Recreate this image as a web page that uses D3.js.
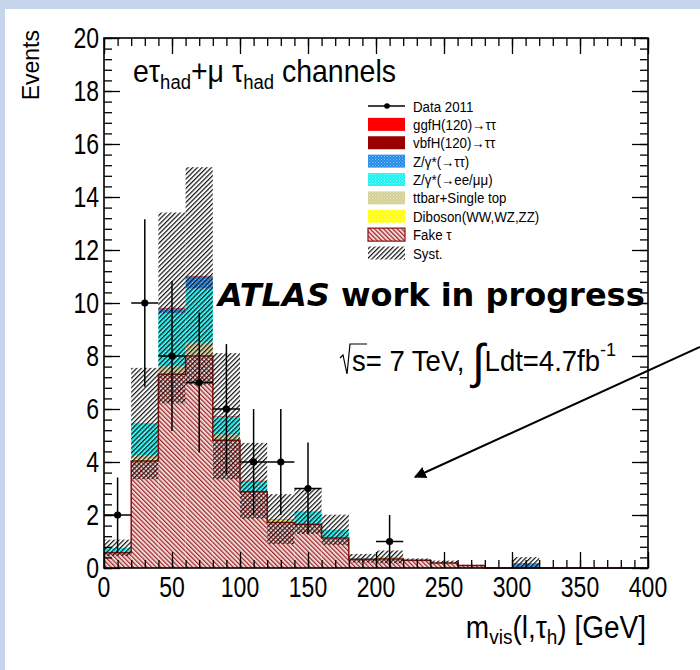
<!DOCTYPE html>
<html><head><meta charset="utf-8">
<script src="https://cdn.jsdelivr.net/npm/d3@7"></script>
<style>body{margin:0;background:#fff} text{font-family:"Liberation Sans",Arial,Helvetica,sans-serif}</style>
</head><body><svg id="c" width="700" height="670"></svg>
<script>
// 20 GeV bins of the visible mass
const binEdges = [0,20,40,60,80,100,120,140,160,180,200,220,240,260,280,300,320,340,360,380,400];

// expected events per bin, stacked bottom to top
const fakeTau = [0.58,4.04,7.31,8.00,4.82,2.88,1.72,1.65,1.13,0.33,0.34,0.29,0.19,0.09,0,0,0,0,0,0];
const diboson = [0.00,0.08,0.02,0.02,0.02,0.01,0.08,0.01,0.01,0.01,0.03,0.01,0.02,0.01,0,0,0,0,0,0];
const ttbarTop = [0.02,0.13,0.28,0.48,0.20,0.02,0.04,0.03,0.02,0.01,0.04,0.01,0.02,0,0,0,0,0,0,0];
const zll = [0.16,1.19,2.01,2.04,0.67,0.37,0.00,0.44,0.28,0.02,0.01,0,0,0,0,0,0,0,0,0];
const ztautau = [0.00,0.00,0.17,0.46,0.00,0.00,0.00,0.00,0.00,0,0,0,0,0,0,0.18,0,0,0,0];
const vbfH = [0,0.002,0.004,0.004,0.003,0.002,0.001,0.001,0,0,0,0,0,0,0,0,0,0,0,0];
const ggfH = [0,0.01,0.02,0.02,0.015,0.01,0.005,0.003,0.002,0,0,0,0,0,0,0,0,0,0,0];

// systematic uncertainty (half width) on the total expectation
const systErr = [0.31,2.10,3.60,4.10,2.38,1.43,0.94,0.85,0.57,0.16,0.24,0.05,0.05,0.02,0,0.23,0,0,0,0];

// observed 2011 data
const dataCounts = [2,10,8,7,6,4,4,3,0,0,1,0,0,0,0,0,0,0,0,0];

const xTicks = [0,50,100,150,200,250,300,350,400];
const yTicks = [0,2,4,6,8,10,12,14,16,18,20];

const layerKeys = ["fake","diboson","ttbar","zll","ztt","vbf","ggf"];
const layerFill = {fake:"url(#hFake)",diboson:"url(#dYel)",ttbar:"url(#dTan)",zll:"url(#dCyan)",ztt:"url(#dBlue)",vbf:"#990000",ggf:"#ff0000"};

const rows = fakeTau.map((f,i)=>({i, fake:f, diboson:diboson[i], ttbar:ttbarTop[i], zll:zll[i], ztt:ztautau[i], vbf:vbfH[i], ggf:ggfH[i]}));
const stacked = d3.stack().keys(layerKeys)(rows);
const totals = rows.map(r=>layerKeys.reduce((s,k)=>s+r[k],0));

const svg = d3.select("#c");
svg.append("rect").attr("width",700).attr("height",670).attr("fill","#c6d4ec");
svg.append("rect").attr("x",5).attr("y",9).attr("width",695).attr("height",661).attr("fill","#fff");

const defs = svg.append("defs");
function hatch(id, angle, color, gap, width, bg){
  const p = defs.append("pattern").attr("id",id).attr("patternUnits","userSpaceOnUse")
    .attr("width",gap).attr("height",gap).attr("patternTransform",`rotate(${angle})`);
  if (bg) p.append("rect").attr("width",gap).attr("height",gap).attr("fill",bg);
  p.append("line").attr("x1",0.6).attr("y1",0).attr("x2",0.6).attr("y2",gap).attr("stroke",color).attr("stroke-width",width);
}
hatch("hFake",-45,"#9e2020",3.2,1.15,"#f0d9d9");
hatch("hSyst",45,"#151515",3.3,1.25,null);
function dots(id, base, dot){
  const p = defs.append("pattern").attr("id",id).attr("patternUnits","userSpaceOnUse").attr("width",3).attr("height",3);
  p.append("rect").attr("width",3).attr("height",3).attr("fill",base);
  p.append("rect").attr("width",1).attr("height",1).attr("fill",dot);
  p.append("rect").attr("x",1.5).attr("y",1.5).attr("width",1).attr("height",1).attr("fill",dot);
}
dots("dBlue","#1e88e5","#8fc6ff");
dots("dCyan","#14f2f2","#9ffcfc");
dots("dTan","#d4cf94","#ebe8c8");
dots("dYel","#ffff00","#ffffa0");

const frame = {left:104, right:648, top:38, bottom:568};
const x = d3.scaleLinear().domain([0,400]).range([frame.left,frame.right]);
const y = d3.scaleLinear().domain([0,20]).range([frame.bottom,frame.top]);

// stacked backgrounds
const gStack = svg.append("g");
stacked.forEach(layer=>{
  gStack.selectAll(null).data(layer.filter(d=>d[1]-d[0]>0)).enter().append("rect")
    .attr("x",d=>x(binEdges[d.data.i]))
    .attr("width",d=>x(binEdges[d.data.i+1])-x(binEdges[d.data.i]))
    .attr("y",d=>y(d[1]))
    .attr("height",d=>y(d[0])-y(d[1]))
    .attr("fill",layerFill[layer.key]);
});

// outline of the fake-tau histogram
const stepPts = fakeTau.map((v,i)=>[binEdges[i],v]).concat([[400,fakeTau[fakeTau.length-1]]]);
svg.append("path").attr("d",d3.line().x(d=>x(d[0])).y(d=>y(d[1])).curve(d3.curveStepAfter)(stepPts))
  .attr("fill","none").attr("stroke","#8b1010").attr("stroke-width",1.5);

// systematic band
svg.append("g").selectAll("rect").data(totals.map((t,i)=>({i,lo:Math.max(0,t-systErr[i]),hi:t+systErr[i]})).filter(d=>d.hi-d.lo>0))
  .enter().append("rect")
  .attr("x",d=>x(binEdges[d.i])).attr("width",d=>x(binEdges[d.i+1])-x(binEdges[d.i]))
  .attr("y",d=>y(d.hi)).attr("height",d=>y(d.lo)-y(d.hi)).attr("fill","url(#hSyst)");

// data points with sqrt(N) errors
const pts = dataCounts.map((n,i)=>({i,n})).filter(d=>d.n>0);
const gData = svg.append("g").attr("stroke","#000").attr("stroke-width",1.5);
pts.forEach(d=>{
  const cx = x((binEdges[d.i]+binEdges[d.i+1])/2), e = Math.sqrt(d.n);
  gData.append("line").attr("x1",cx).attr("x2",cx).attr("y1",y(d.n+e)).attr("y2",y(d.n-e));
  gData.append("line").attr("x1",x(binEdges[d.i])).attr("x2",x(binEdges[d.i+1])).attr("y1",y(d.n)).attr("y2",y(d.n));
  gData.append("circle").attr("cx",cx).attr("cy",y(d.n)).attr("r",3.6).attr("fill","#000").attr("stroke","none");
});

// axes with inward ticks on all four sides
const yMinor = d3.range(0,20.01,0.4), xMinor = d3.range(0,400.1,10);
function ax(gen, tx, ty){ const g = svg.append("g").attr("transform",`translate(${tx},${ty})`).call(gen); g.select(".domain").remove(); g.selectAll("text").remove(); g.selectAll("line").attr("stroke","#000").attr("stroke-width",1.3); }
ax(d3.axisLeft(y).tickValues(yMinor).tickSize(-8), frame.left, 0);
ax(d3.axisLeft(y).tickValues(yTicks).tickSize(-16), frame.left, 0);
ax(d3.axisRight(y).tickValues(yMinor).tickSize(-8), frame.right, 0);
ax(d3.axisRight(y).tickValues(yTicks).tickSize(-16), frame.right, 0);
ax(d3.axisBottom(x).tickValues(xMinor).tickSize(-8), 0, frame.bottom);
ax(d3.axisBottom(x).tickValues(xTicks).tickSize(-16), 0, frame.bottom);
ax(d3.axisTop(x).tickValues(xMinor).tickSize(-8), 0, frame.top);
ax(d3.axisTop(x).tickValues(xTicks).tickSize(-16), 0, frame.top);
svg.append("rect").attr("x",frame.left).attr("y",frame.top).attr("width",frame.right-frame.left).attr("height",frame.bottom-frame.top)
  .attr("fill","none").attr("stroke","#000").attr("stroke-width",1.6);

// text helper with vertical stretch
function rt(px, py, size, anchor, k){
  return svg.append("g").attr("transform",`translate(${px},${py}) scale(1,${k||1})`)
    .append("text").attr("font-size",size).attr("text-anchor",anchor||"start");
}
yTicks.forEach(v=>rt(99, y(v)+10, 23, "end", 1.25).text(v));
xTicks.forEach(v=>rt(x(v), 597, 23, "middle", 1.25).text(v));

svg.append("text").attr("transform","translate(39,30) rotate(-90)").attr("text-anchor","end").attr("font-size",23).text("Events");

const xt = rt(646, 638, 28, "end", 1.1);
xt.append("tspan").text("m");
xt.append("tspan").attr("font-size",19).attr("dy",5).text("vis");
xt.append("tspan").attr("dy",-5).text("(l,τ");
xt.append("tspan").attr("font-size",19).attr("dy",5).text("h");
xt.append("tspan").attr("dy",-5).text(") [GeV]");

const ch = rt(133, 82, 28.5, "start", 1.1);
ch.append("tspan").text("eτ");
ch.append("tspan").attr("font-size",18.5).attr("dy",6).text("had");
ch.append("tspan").attr("dy",-6).text("+μ τ");
ch.append("tspan").attr("font-size",18.5).attr("dy",6).text("had");
ch.append("tspan").attr("dy",-6).text(" channels");

// legend
const legendRows = [
  {label:"Data 2011", kind:"data"},
  {label:"ggfH(120)→ττ", fill:"#ff0000"},
  {label:"vbfH(120)→ττ", fill:"#990000"},
  {label:"Z/γ*(→ττ)", fill:"url(#dBlue)"},
  {label:"Z/γ*(→ee/μμ)", fill:"url(#dCyan)"},
  {label:"ttbar+Single top", fill:"url(#dTan)"},
  {label:"Diboson(WW,WZ,ZZ)", fill:"url(#dYel)"},
  {label:"Fake τ", fill:"url(#hFake)", stroke:"#8b1010"},
  {label:"Syst.", fill:"url(#hSyst)"}
];
const ly = d3.scaleLinear().domain([0,8]).range([106,253]);
legendRows.forEach((r,i)=>{
  const cy = ly(i);
  if (r.kind==="data"){
    svg.append("line").attr("x1",368).attr("x2",405).attr("y1",cy).attr("y2",cy).attr("stroke","#000").attr("stroke-width",1.3);
    svg.append("circle").attr("cx",387).attr("cy",cy).attr("r",2.8).attr("fill","#000");
  } else {
    svg.append("rect").attr("x",368).attr("y",cy-6.5).attr("width",37).attr("height",13).attr("fill",r.fill)
      .attr("stroke",r.stroke||"none").attr("stroke-width",1.2);
  }
  rt(413, cy+5.5, 13.3, "start", 1.12).text(r.label);
});

// ATLAS label
const at = svg.append("text").attr("x",218).attr("y",306).attr("font-size",32).attr("font-weight","bold")
  .style("font-family","'DejaVu Sans',Verdana,sans-serif");
at.append("tspan").attr("font-style","italic").text("ATLAS");
at.append("tspan").text(" work in progress");

// energy and luminosity
const lum = rt(352, 371, 27.5, "start", 1.05);
lum.append("tspan").text("s= 7 TeV, ");
lum.append("tspan").attr("font-size",46).attr("dy",7).text("∫");
lum.append("tspan").attr("dy",-7).text("Ldt=4.7fb");
lum.append("tspan").attr("font-size",18).attr("dy",-14).text("-1");
// radical sign over s
svg.append("path").attr("d","M340,358 L343,355 L347,374 L350,344 L367,344").attr("fill","none").attr("stroke","#000").attr("stroke-width",1.2);

// annotation arrow
svg.append("defs").append("marker").attr("id","ah").attr("viewBox","0 0 10 10").attr("refX",9).attr("refY",5)
  .attr("markerWidth",6).attr("markerHeight",6).attr("orient","auto")
  .append("path").attr("d","M0,0 L10,5 L0,10 z").attr("fill","#000");
svg.append("line").attr("x1",700).attr("y1",347).attr("x2",415).attr("y2",477).attr("stroke","#000").attr("stroke-width",2).attr("marker-end","url(#ah)");
</script></body></html>
